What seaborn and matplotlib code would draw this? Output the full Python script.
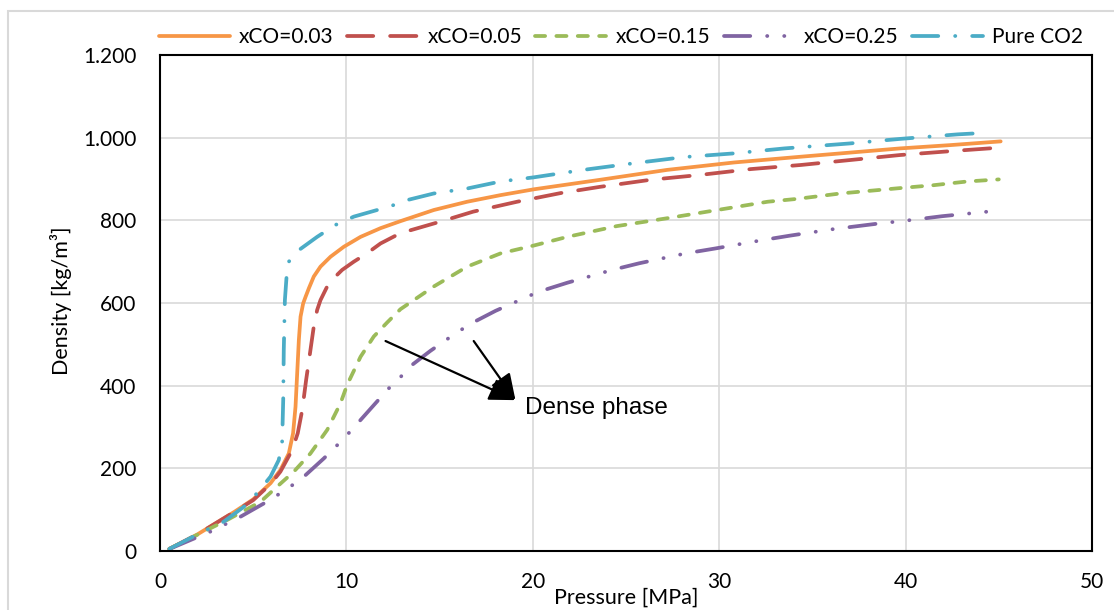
import numpy as np
import pandas as pd
import matplotlib
matplotlib.use("Agg")
import matplotlib.pyplot as plt
import matplotlib.patches as mpatches
import seaborn as sns

# ---------------- data ----------------
labels = ["xCO=0.03", "xCO=0.05", "xCO=0.15", "xCO=0.25", "Pure CO2"]

p_03 = [0.5, 2, 4, 5, 5.93, 6.46, 6.91, 7.14, 7.27, 7.36, 7.45, 7.54, 7.68, 7.81, 7.99,
        8.25, 8.61, 9.15, 9.86, 10.76, 11.83, 12.9, 14.69, 16.48, 18.27, 20.05, 23.6,
        27.2, 30.8, 34.4, 39.7, 42.4, 45.1]
d_03 = [5, 40, 95, 125, 164, 196, 236, 285, 349, 430, 511, 567, 599, 615, 636,
        664, 688, 712, 736, 760, 781, 798, 825, 845, 861, 875, 898,
        922, 940, 954, 974, 982, 991]

p_05 = [0.5, 2, 4, 5, 5.93, 6.46, 7.09, 7.39, 7.63, 7.84, 8.02, 8.25, 8.43, 8.61, 8.97,
        9.32, 9.77, 10.4, 11.1, 11.83, 12.9, 15.05, 16.8, 19.16, 21.5, 23.6, 26.3,
        29.0, 31.7, 34.4, 39.7, 42.6, 45.1]
d_05 = [5, 40, 95, 123, 162, 192, 244, 285, 341, 414, 470, 543, 583, 607, 640,
        660, 680, 700, 720, 744, 769, 797, 821, 845, 866, 881, 898,
        910, 924, 934, 958, 968, 976]

p_15 = [0.5, 1.81, 3.6, 5.39, 6.29, 7.18, 8.07, 8.97, 9.68, 10.04, 10.76, 11.47, 12.19,
        12.9, 14.69, 16.48, 18.27, 20.05, 21.85, 24.5, 27.2, 29.9, 32.6, 34.2, 36.5,
        39.7, 41.5, 43.3, 45.0]
d_15 = [5, 35, 75, 119, 156, 192, 236, 293, 357, 402, 470, 519, 553,
        585, 640, 688, 720, 739, 760, 786, 805, 825, 845, 852, 865,
        878, 885, 894, 899]

p_25 = [0.56, 2.71, 4.32, 5.57, 6.29, 7.0, 7.72, 8.79, 9.42, 10.04, 10.76, 11.65, 12.19,
        12.81, 13.4, 14.5, 15.9, 16.8, 18.0, 20.3, 21.85, 24.26, 25.7, 28.2, 29.8, 32.3,
        33.8, 36.0, 38.5, 40.35, 41.96, 44.4, 45.1]
d_25 = [6, 47, 83, 115, 135, 156, 180, 224, 252, 281, 317, 362, 390,
        416, 446, 484, 528, 553, 581, 627, 649, 680, 696, 720, 732, 752,
        763, 778, 792, 801, 810, 821, 825]

p_co2 = [0.5, 2, 3.42, 4.5, 5.21, 5.93, 6.37, 6.55, 6.61, 6.64, 6.70, 6.79, 6.91, 7.45,
         8.43, 9.42, 10.4, 11.65, 12.54, 13.26, 14.69, 16.48, 18.27, 20.05, 22.7, 25.4,
         28.1, 30.8, 33.5, 37.0, 39.7, 42.8, 44.4]
d_co2 = [5, 40, 71, 107, 140, 180, 220, 261, 365, 486, 607, 664, 700, 728,
         760, 789, 809, 825, 837, 849, 865, 877, 894, 904, 922, 938,
         953, 962, 974, 986, 997, 1008, 1012]

x_ticks = [0, 10, 20, 30, 40, 50]
y_ticks = [0, 200, 400, 600, 800, 1000, 1200]
y_tick_labels = ["0", "200", "400", "600", "800", "1.000", "1.200"]

# ---------------- styling ----------------
sns.set_style("white")
plt.rcParams["font.family"] = ["Lato", "DejaVu Sans"]
plt.rcParams["text.color"] = "black"
plt.rcParams["axes.labelcolor"] = "black"
plt.rcParams["xtick.color"] = "black"
plt.rcParams["ytick.color"] = "black"

colors = ["#F79646", "#C0504D", "#9BBB59", "#8064A2", "#4BACC6"]
styles = [
    "-",
    (0, (7.0, 4.5)),
    (0, (2.7, 3.0)),
    (0, (7.0, 4.5, 0.05, 4.5, 0.05, 4.5)),
    (0, (7.0, 4.5, 0.05, 4.5)),
]
LW = 2.7

fig = plt.figure(figsize=(11.14, 6.10), dpi=100)
ax = fig.add_axes([160 / 1114, 1 - 551 / 610, (1092 - 160) / 1114, (551 - 55) / 610])

series = [(p_03, d_03), (p_05, d_05), (p_15, d_15), (p_25, d_25), (p_co2, d_co2)]
for (px, dy), lab, col, ls in zip(series, labels, colors, styles):
    sns.lineplot(x=px, y=dy, ax=ax, color=col, linewidth=LW, linestyle=ls,
                 sort=False, label=lab, dash_capstyle="round", solid_capstyle="round",
                 solid_joinstyle="round")

ax.set_xlim(0, 50)
ax.set_ylim(0, 1200)
ax.set_xticks(x_ticks)
ax.set_xticklabels([str(t) for t in x_ticks])
ax.set_yticks(y_ticks)
ax.set_yticklabels(y_tick_labels)
ax.tick_params(axis="both", length=0, labelsize=15, colors="black")
ax.tick_params(axis="x", pad=15)
ax.tick_params(axis="y", pad=17)

ax.grid(True, color="#D9D9D9", linewidth=1.2)
ax.set_axisbelow(True)
for s in ax.spines.values():
    s.set_color("black")
    s.set_linewidth(1.5)

ax.set_xlabel("Pressure [MPa]", fontsize=15.5, color="black")
ax.set_ylabel("Density [kg/m³]", fontsize=15.5, color="black")
ax.xaxis.set_label_coords(0.5, -0.073)
ax.yaxis.set_label_coords(-0.094, 0.505)

# annotation arrows
head = (19.07, 365)
for tail in [(12.1, 508), (16.83, 508)]:
    ax.annotate("", xy=head, xytext=tail,
                arrowprops=dict(arrowstyle="-|>,head_length=1.6,head_width=0.7",
                                color="black", lw=1.6, shrinkA=0, shrinkB=0))
ax.text(19.6, 347, "Dense phase", fontsize=17.5, va="center", ha="left", color="black",
        family=["Liberation Sans", "DejaVu Sans"])

leg = ax.legend(loc="center", bbox_to_anchor=(0.5575, 0.939), bbox_transform=fig.transFigure,
                ncol=5, frameon=False, handlelength=3.4, handletextpad=0.45,
                columnspacing=0.65, fontsize=15)
for t in leg.get_texts():
    t.set_color("black")

# light chart-area border
fig.add_artist(mpatches.Rectangle((7.5 / 1114, -0.1), 1.2, 1.1 - 11.5 / 610,
                                  transform=fig.transFigure, fill=False,
                                  edgecolor="#D9D9D9", linewidth=1.5))

fig.savefig("out.png", dpi=100)
